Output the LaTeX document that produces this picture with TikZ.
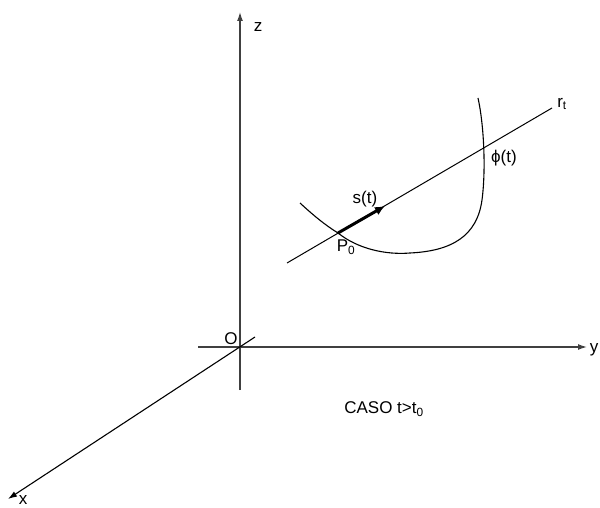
\documentclass[tikz,border=0pt]{standalone}
\usepackage{fontspec}
\setmainfont{Liberation Sans}
\usepackage{tikz}
\usetikzlibrary{arrows.meta}

\tikzset{
  axis/.style={draw=black!75, line width=1.3pt, -{Latex[length=9pt,width=6pt]}},
  lbl/.style={font=\fontsize{17}{19}\selectfont, inner sep=0pt},
  curvestyle/.style={line width=1.1pt},
}

\begin{document}
\begin{tikzpicture}[x=1pt, y=-1pt]
    \useasboundingbox (0,0) rectangle (600,508);

    % Axes
    \coordinate (O) at (240,347);
    \coordinate (zbot) at (240,390);
    \coordinate (ztop) at (240,12);
    \coordinate (ybeg) at (198,347);
    \coordinate (yend) at (587,347);
    \coordinate (xbeg) at (255,337);
    \coordinate (xend) at (8,499);
    \draw[axis] (zbot) -- (ztop);
    \draw[axis] (ybeg) -- (yend);
    \draw[axis, line width=1.1pt, draw=black] (xbeg) -- (xend);

    % axis labels
    \node[lbl] (labO) at (231,339) {O};
    \node[lbl] (labz) at (258,27) {z};
    \node[lbl] (laby) at (594,350) {y};
    \node[lbl] (labx) at (23,500) {x};

    % Line r_t
    \coordinate (rbeg) at (287,263);
    \coordinate (P0) at (338,233);
    \coordinate (rend) at (552,108);
    \coordinate (stip) at (385,206);
    \draw[line width=1pt] (rbeg) -- (rend);
    \node[lbl] (labr) at (562,104) {r\textsubscript{t}};

    % Curve
    \draw[curvestyle] (300,203) .. controls (313,215) and (325,225) .. (P0)
        .. controls (358,249) and (386,255) .. (410,253)
        .. controls (452,251) and (477,236) .. (482,200)
        .. controls (486,170) and (484,125) .. (478,98);

    % Vector s(t)
    \draw[line width=3pt, -{Latex[length=10pt,width=9pt]}] (P0) -- (stip);
    \node[lbl] (labs) at (365,199) {s(t)};
    \node[lbl] (labP) at (346,247) {P\textsubscript{0}};
    \node[lbl] (labphi) at (504,158) {ϕ(t)};

    % caption
    \node[lbl] (caso) at (384,409) {CASO t>t\textsubscript{0}};
\end{tikzpicture}
\end{document}
